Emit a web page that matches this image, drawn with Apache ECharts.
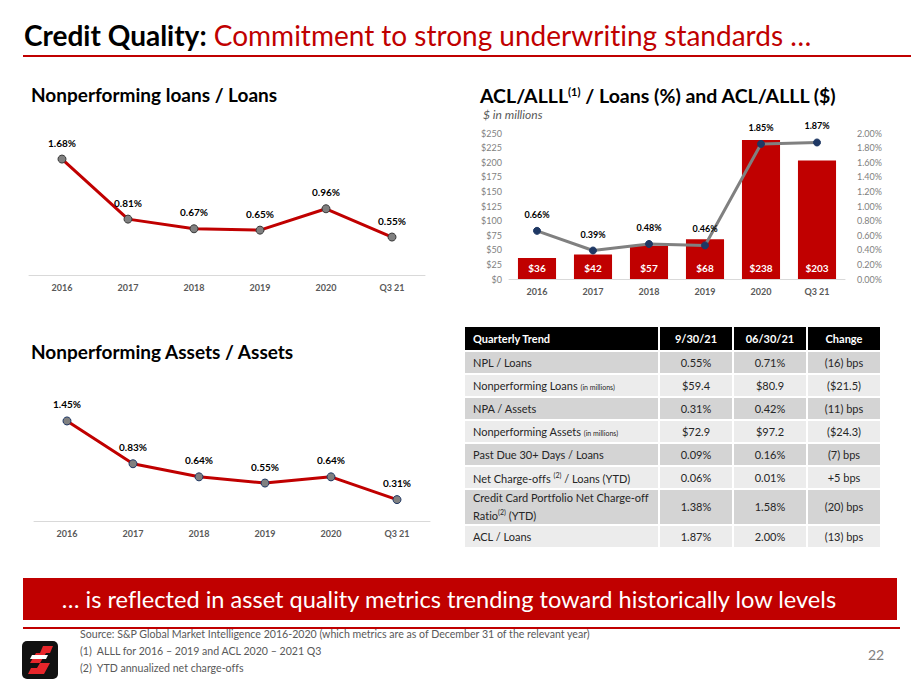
<!DOCTYPE html>
<html>
<head>
<meta charset="utf-8">
<script src="https://cdn.jsdelivr.net/npm/echarts@6/dist/echarts.min.js"></script>
<style>
  body { margin: 0; background: #fff; font-family: 'Lato', 'Open Sans', sans-serif; font-variant-ligatures: none; }
  #page { position: relative; width: 911px; height: 683px; overflow: hidden; }
  #main { position: absolute; left: 0; top: 0; width: 911px; height: 683px; }
  .abs { position: absolute; white-space: nowrap; }
  #title { left: 24px; top: 19px; font-size: 28px; line-height: 32px; }
  #title b { color: #000; }
  #title span { color: #C00000; }
  #rule { left: 23px; top: 55px; width: 888px; height: 2px; background: #C00000; }
  .sub { font-size: 19px; font-weight: bold; color: #000; line-height: 20px; }
  .sub sup { font-size: 11px; vertical-align: 7px; line-height: 0; }
  #unit { left: 483px; top: 108px; font-size: 12px; line-height: 14px; font-style: italic; color: #595959; }
  #tbl { position: absolute; left: 463px; top: 325px; border-collapse: separate; border-spacing: 2px; font-size: 11px; color: #262626; }
  #tbl td { padding: 0; text-align: center; }
  #tbl td.lbl { text-align: left; padding-left: 8px; }
  #tbl tr.hd td { background: #000; color: #fff; font-weight: bold; height: 23px; }
  #tbl tr.dk td { background: #D4D4D4; height: 21px; }
  #tbl tr.lt td { background: #ECECEC; height: 21px; }
  #tbl tr.tall td { height: 34px; line-height: 14px; }
  #tbl small { font-size: 7px; }
  #tbl sup { font-size: 7px; }
  #banner { left: 23px; top: 578px; width: 852px; padding-right: 22px; height: 42px; background: #C00000; color: #fff; font-size: 23.6px; line-height: 42px; text-align: center; }
  #rule2 { left: 23px; top: 627px; width: 877px; height: 2px; background: #C00000; }
  .note { left: 80px; font-size: 10.6px; color: #595959; }
  #pg { left: 868px; top: 646px; font-size: 14px; color: #7F7F7F; }
  #logo { left: 22px; top: 641px; width: 36px; height: 38px; background: #111; border-radius: 5px; overflow: hidden; }
</style>
</head>
<body>
<div id="page">
  <div id="main"></div>
  <div class="abs" id="title"><b>Credit Quality:</b><span> Commitment to strong underwriting standards …</span></div>
  <div class="abs" id="rule"></div>
  <div class="abs sub" style="left:31px;top:85px;">Nonperforming loans / Loans</div>
  <div class="abs sub" style="left:31px;top:342px;">Nonperforming Assets / Assets</div>
  <div class="abs sub" style="left:480px;top:86px;font-size:19.5px;">ACL/ALLL<sup>(1)</sup> / Loans (%) and ACL/ALLL ($)</div>
  <div class="abs" id="unit">$ in millions</div>
  <table id="tbl"></table>
  <div class="abs" id="banner">… is reflected in asset quality metrics trending toward historically low levels</div>
  <div class="abs" id="rule2"></div>
  <div class="abs" id="logo"><svg width="36" height="38" viewBox="0 0 36 38">
    <path d="M21 5 L31 5 L28 12 L18 12 Z" fill="#E8262B"/>
    <path d="M14 12 L24 12 L18 22 L8 22 Z" fill="#E8262B"/>
    <path d="M18 22 L28 22 L22 33 L6 33 L9 27 L15 27 Z" fill="#E8262B"/>
    <path d="M10 14 L26 14 L24 18 L8 18 Z" fill="#fff"/>
  </svg></div>
  <div class="abs note" style="top:628px;">Source: S&amp;P Global Market Intelligence 2016-2020 (which metrics are as of December 31 of the relevant year)</div>
  <div class="abs note" style="top:645px;">(1)&nbsp; ALLL for 2016 – 2019 and ACL 2020 – 2021 Q3</div>
  <div class="abs note" style="top:662px;">(2)&nbsp; YTD annualized net charge-offs</div>
  <div class="abs" id="pg">22</div>
</div>
<script>
var years = ['2016', '2017', '2018', '2019', '2020', 'Q3 21'];
var nplLoans = [1.68, 0.81, 0.67, 0.65, 0.96, 0.55];
var npaAssets = [1.45, 0.83, 0.64, 0.55, 0.64, 0.31];
var aclDollars = [36, 42, 57, 68, 238, 203];
var aclRatio = [0.66, 0.39, 0.48, 0.46, 1.85, 1.87];

// table rows: label, 9/30/21, 06/30/21, change
var tblHead = ['Quarterly Trend', '9/30/21', '06/30/21', 'Change'];
var tblLabels = ['NPL / Loans', 'Nonperforming Loans <small>(in millions)</small>', 'NPA / Assets',
  'Nonperforming Assets <small>(in millions)</small>', 'Past Due 30+ Days / Loans',
  'Net Charge-offs <sup>(2)</sup> / Loans (YTD)', 'Credit Card Portfolio Net Charge-off<br>Ratio<sup>(2)</sup> (YTD)', 'ACL / Loans'];
var tblCur = ['0.55%', '$59.4', '0.31%', '$72.9', '0.09%', '0.06%', '1.38%', '1.87%'];
var tblPrev = ['0.71%', '$80.9', '0.42%', '$97.2', '0.16%', '0.01%', '1.58%', '2.00%'];
var tblChg = ['(16) bps', '($21.5)', '(11) bps', '($24.3)', '(7) bps', '+5 bps', '(20) bps', '(13) bps'];

var html = '<tr class="hd"><td class="lbl" style="width:185px">' + tblHead[0] + '</td>' +
  '<td style="width:72px">' + tblHead[1] + '</td><td style="width:72px">' + tblHead[2] +
  '</td><td style="width:72px">' + tblHead[3] + '</td></tr>';
for (var i = 0; i < tblLabels.length; i++) {
  var cls = (i % 2 == 0 ? 'dk' : 'lt') + (i == 6 ? ' tall' : '');
  html += '<tr class="' + cls + '"><td class="lbl">' + tblLabels[i] + '</td><td>' + tblCur[i] +
    '</td><td>' + tblPrev[i] + '</td><td>' + tblChg[i] + '</td></tr>';
}
document.getElementById('tbl').innerHTML = html;

var pct = function (p) { return p.value.toFixed(2) + '%'; };
var font = 'Lato';

var catAxis = function (idx) {
  return {
    type: 'category', gridIndex: idx, data: years,
    axisLine: { lineStyle: { color: '#D9D9D9', width: 1 } },
    axisTick: { show: false },
    axisLabel: { color: '#595959', fontSize: 9, fontWeight: 'bold', fontFamily: font, margin: 8 }
  };
};

var myChart = echarts.init(document.getElementById('main'), null, { renderer: 'svg' });

var option = {
  animation: false,
  grid: [
    { left: 29, top: 137, width: 396, height: 138 },
    { left: 34, top: 383, width: 396, height: 138 },
    { left: 509, top: 133, width: 336, height: 146 }
  ],
  xAxis: [catAxis(0), catAxis(1), catAxis(2)],
  yAxis: [
    { gridIndex: 0, min: 0, max: 2, show: false },
    { gridIndex: 1, min: 0, max: 2, show: false },
    {
      gridIndex: 2, min: 0, max: 250, interval: 25,
      splitLine: { show: false }, axisLine: { show: false }, axisTick: { show: false },
      axisLabel: { color: '#7F7F7F', fontSize: 9, fontFamily: font, margin: 7, formatter: '${value}' }
    },
    {
      gridIndex: 2, min: 0, max: 2, interval: 0.2, position: 'right',
      splitLine: { show: false }, axisLine: { show: false }, axisTick: { show: false },
      axisLabel: {
        color: '#7F7F7F', fontSize: 9, fontFamily: font, margin: 12,
        formatter: function (v) { return v.toFixed(2) + '%'; }
      }
    }
  ],
  series: [
    {
      name: 'NPL / Loans', type: 'line', xAxisIndex: 0, yAxisIndex: 0, data: nplLoans,
      lineStyle: { color: '#C00000', width: 3 },
      symbol: 'circle', symbolSize: 8,
      itemStyle: { color: '#808080', borderColor: '#3A3A3A', borderWidth: 1 },
      label: { show: true, position: 'top', distance: 7, color: '#000', fontSize: 10, fontWeight: 'bold', fontFamily: font, formatter: pct }
    },
    {
      name: 'NPA / Assets', type: 'line', xAxisIndex: 1, yAxisIndex: 1, data: npaAssets,
      lineStyle: { color: '#C00000', width: 3 },
      symbol: 'circle', symbolSize: 8,
      itemStyle: { color: '#808080', borderColor: '#1F3864', borderWidth: 1 },
      label: { show: true, position: 'top', distance: 7, color: '#000', fontSize: 10, fontWeight: 'bold', fontFamily: font, formatter: pct }
    },
    {
      name: 'ACL/ALLL ($)', type: 'bar', xAxisIndex: 2, yAxisIndex: 2, data: aclDollars,
      barWidth: '68%', itemStyle: { color: '#C00000' },
      label: {
        show: true, position: 'insideBottom', distance: 6, color: '#fff', fontSize: 10,
        fontWeight: 'bold', fontFamily: font, formatter: function (p) { return '$' + p.value; }
      }
    },
    {
      name: 'ACL/ALLL / Loans (%)', type: 'line', xAxisIndex: 2, yAxisIndex: 3, data: aclRatio,
      lineStyle: { color: '#808080', width: 3 },
      symbol: 'circle', symbolSize: 7,
      itemStyle: { color: '#1F3864', borderColor: '#1F3864' },
      label: { show: true, position: 'top', distance: 8, color: '#000', fontSize: 9, fontWeight: 'bold', fontFamily: font, formatter: pct }
    }
  ]
};

myChart.setOption(option);
</script>
</body>
</html>
